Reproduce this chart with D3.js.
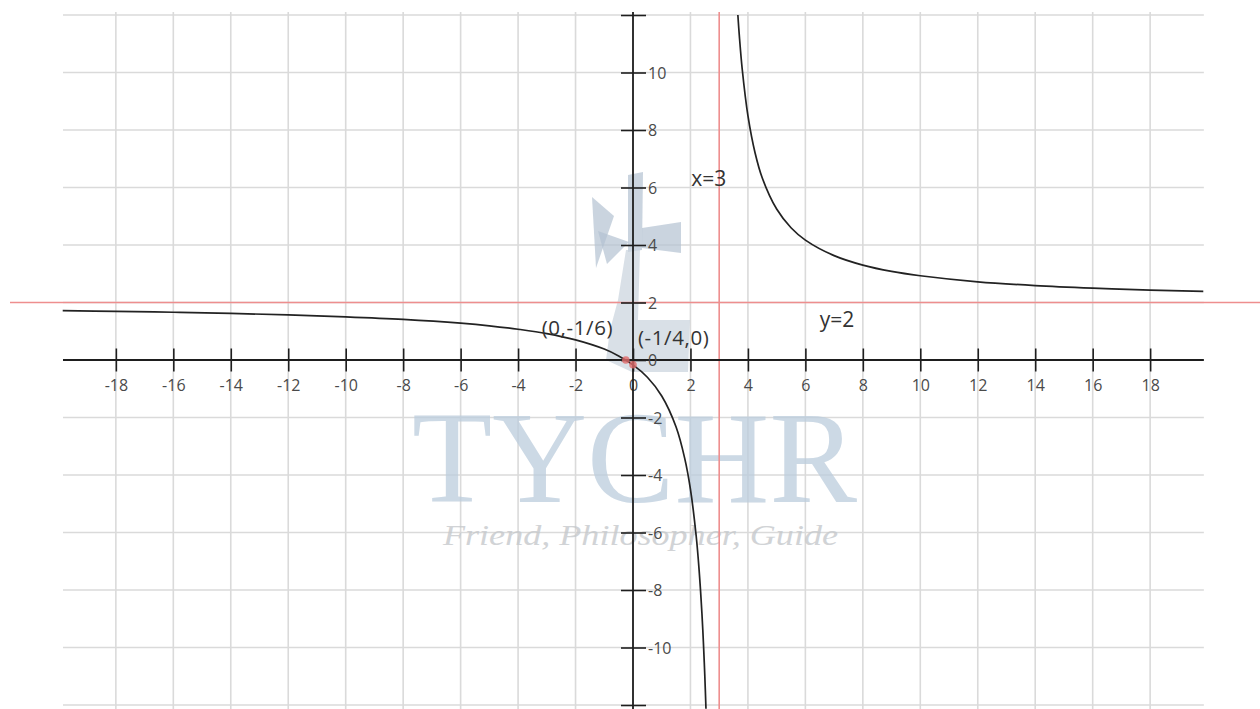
<!DOCTYPE html>
<html>
<head>
<meta charset="utf-8">
<script src="https://cdn.jsdelivr.net/npm/d3@7/dist/d3.min.js"></script>
<style>
  html, body { margin: 0; padding: 0; background: #fff; }
  svg { display: block; }
</style>
</head>
<body>
<svg id="chart" width="1260" height="709"></svg>
<script>
// Branch of the curve left of the vertical asymptote (x < 3)
const leftX = [-19.85, -18, -16, -14, -12, -10, -8, -6, -5, -4, -3, -2, -1, -0.5, 0, 0.5, 1, 1.5, 1.8, 2, 2.2, 2.3, 2.4, 2.45, 2.5, 2.54];
const leftY = [1.72, 1.69, 1.66, 1.62, 1.57, 1.5, 1.41, 1.28, 1.19, 1.07, 0.92, 0.7, 0.38, 0.14, -0.17, -0.6, -1.25, -2.33, -3.42, -4.5, -6.13, -7.29, -8.83, -9.82, -11, -12.13];

// Branch right of the vertical asymptote (x > 3)
const rightX = [3.65, 3.7, 3.8, 4, 4.25, 4.5, 5, 5.5, 6, 7, 8, 9, 10, 12, 14, 16, 18, 19.85];
const rightY = [12, 11.29, 10.13, 8.5, 7.2, 6.33, 5.25, 4.6, 4.17, 3.63, 3.3, 3.08, 2.93, 2.72, 2.59, 2.5, 2.43, 2.39];

// Asymptotes
const asymptoteX = 3;
const asymptoteY = 2;

// Axis ticks and labels
const xTicks = [-18, -16, -14, -12, -10, -8, -6, -4, -2, 0, 2, 4, 6, 8, 10, 12, 14, 16, 18];
const yTicks = [-12, -10, -8, -6, -4, -2, 0, 2, 4, 6, 8, 10, 12];
const yLabelTicks = [-10, -8, -6, -4, -2, 0, 2, 4, 6, 8, 10];

// Marked intercepts and annotation texts
const intercepts = [[-0.25, 0], [0, -1 / 6]];
const annotations = [
  { text: "x=3", x: 2.03, y: 6.05, size: 21, spacing: 0 },
  { text: "y=2", x: 6.5, y: 1.15, size: 21, spacing: 0 },
  { text: "(0,-1/6)", x: -3.18, y: 0.87, size: 20.5, spacing: 0.6 },
  { text: "(-1/4,0)", x: 0.17, y: 0.52, size: 20.5, spacing: 0.6 }
];

const svg = d3.select("#chart");
const W = 1260, H = 709;

const x = d3.scaleLinear().domain([-20, 20]).range([58.4, 1207.6]);
const y = d3.scaleLinear().domain([-12, 12]).range([705, 15]);

const xMin = -19.84, xMax = 19.87;   // extent of axis / horizontal grid
const yTop = 12, yBottom = 709;      // pixel extent of vertical lines

// Grid
const grid = svg.append("g").attr("stroke", "#dadada").attr("stroke-width", 1.6);
grid.selectAll("line.h").data(yTicks).join("line")
  .attr("x1", x(xMin)).attr("x2", x(xMax))
  .attr("y1", d => y(d)).attr("y2", d => y(d));
grid.selectAll("line.v").data(xTicks).join("line")
  .attr("x1", d => x(d)).attr("x2", d => x(d))
  .attr("y1", yTop).attr("y2", yBottom);

// Watermark
const wm = svg.append("g");
const logoDark = "#b4c2d1", logoLight = "#c9d3dd";
const logoShapes = [
  { fill: logoDark, pts: [[628, 175], [643, 172], [642, 250], [628, 252]] },
  { fill: logoDark, pts: [[642, 228], [681, 222], [681, 253], [642, 248]] },
  { fill: logoDark, pts: [[592, 197], [614, 216], [596, 268]] },
  { fill: logoDark, pts: [[598, 231], [629, 242], [607, 264]] },
  { fill: logoLight, pts: [[626, 250], [640, 250], [638, 320], [690, 320], [688, 372], [632, 372], [606, 360], [610, 330], [618, 300]] }
];
wm.selectAll("polygon").data(logoShapes).join("polygon")
  .attr("points", d => d.pts.map(p => p.join(",")).join(" "))
  .attr("fill", d => d.fill)
  .attr("opacity", 0.7);
wm.append("text")
  .attr("x", 412).attr("y", 502)
  .attr("textLength", 445).attr("lengthAdjust", "spacingAndGlyphs")
  .attr("font-family", "Liberation Serif, serif")
  .attr("font-size", 131)
  .attr("fill", "#bccddd").attr("opacity", 0.75)
  .text("TYCHR");
wm.append("text")
  .attr("x", 443).attr("y", 545)
  .attr("textLength", 395).attr("lengthAdjust", "spacingAndGlyphs")
  .attr("font-family", "Liberation Serif, serif")
  .attr("font-style", "italic")
  .attr("font-size", 30)
  .attr("fill", "#c6c9cc").attr("opacity", 0.8)
  .text("Friend, Philosopher, Guide");

// Asymptotes
const red = "#ee8e8e";
svg.append("line")
  .attr("x1", 10).attr("x2", W)
  .attr("y1", y(asymptoteY)).attr("y2", y(asymptoteY))
  .attr("stroke", red).attr("stroke-width", 1.6);
svg.append("line")
  .attr("x1", x(asymptoteX)).attr("x2", x(asymptoteX))
  .attr("y1", yTop).attr("y2", yBottom)
  .attr("stroke", red).attr("stroke-width", 1.6);

// Plain hyphen-minus labels
const fmt = d => String(d);

// X axis
const xAxis = svg.append("g")
  .attr("transform", `translate(0,${y(0)})`)
  .call(d3.axisBottom(x).tickValues(xTicks).tickSize(0).tickFormat(fmt));
xAxis.select(".domain").remove();
xAxis.append("line")
  .attr("x1", x(xMin)).attr("x2", x(xMax))
  .attr("stroke", "#1e1e1e").attr("stroke-width", 1.8);
xAxis.selectAll(".tick line")
  .attr("y1", -11.5).attr("y2", 11.5)
  .attr("stroke", "#1e1e1e").attr("stroke-width", 1.6);
xAxis.selectAll(".tick text")
  .attr("y", 31).attr("dy", null)
  .attr("font-family", "Open Sans, sans-serif")
  .attr("font-size", 16).attr("fill", "#4a4a4a");

// Y axis
const yAxis = svg.append("g")
  .attr("transform", `translate(${x(0)},0)`)
  .call(d3.axisRight(y).tickValues(yTicks).tickSize(0)
    .tickFormat(d => yLabelTicks.includes(d) ? fmt(d) : ""));
yAxis.select(".domain").remove();
yAxis.append("line")
  .attr("y1", yTop).attr("y2", yBottom)
  .attr("stroke", "#1e1e1e").attr("stroke-width", 1.8);
yAxis.selectAll(".tick line")
  .attr("x1", -12).attr("x2", 13)
  .attr("stroke", "#1e1e1e").attr("stroke-width", 1.6);
yAxis.selectAll(".tick text")
  .attr("x", 15).attr("dy", "0.35em")
  .attr("font-family", "Open Sans, sans-serif")
  .attr("font-size", 16).attr("fill", "#4a4a4a");

// Curve branches
const line = d3.line()
  .x(d => x(d[0])).y(d => y(d[1]))
  .curve(d3.curveCatmullRom.alpha(0.5));
const branches = [
  d3.zip(leftX, leftY),
  d3.zip(rightX, rightY)
];
svg.append("g").selectAll("path").data(branches).join("path")
  .attr("d", line)
  .attr("fill", "none")
  .attr("stroke", "#222")
  .attr("stroke-width", 1.7);

// Intercept markers
svg.append("g").selectAll("circle").data(intercepts).join("circle")
  .attr("cx", d => x(d[0])).attr("cy", d => y(d[1]))
  .attr("r", 3.8)
  .attr("fill", "#e06a6a").attr("opacity", 0.8);

// Annotations
svg.append("g").selectAll("text").data(annotations).join("text")
  .attr("x", d => x(d.x)).attr("y", d => y(d.y))
  .attr("font-family", "Open Sans, sans-serif")
  .attr("font-size", d => d.size)
  .attr("letter-spacing", d => d.spacing)
  .attr("fill", "#333")
  .text(d => d.text);
</script>
</body>
</html>
